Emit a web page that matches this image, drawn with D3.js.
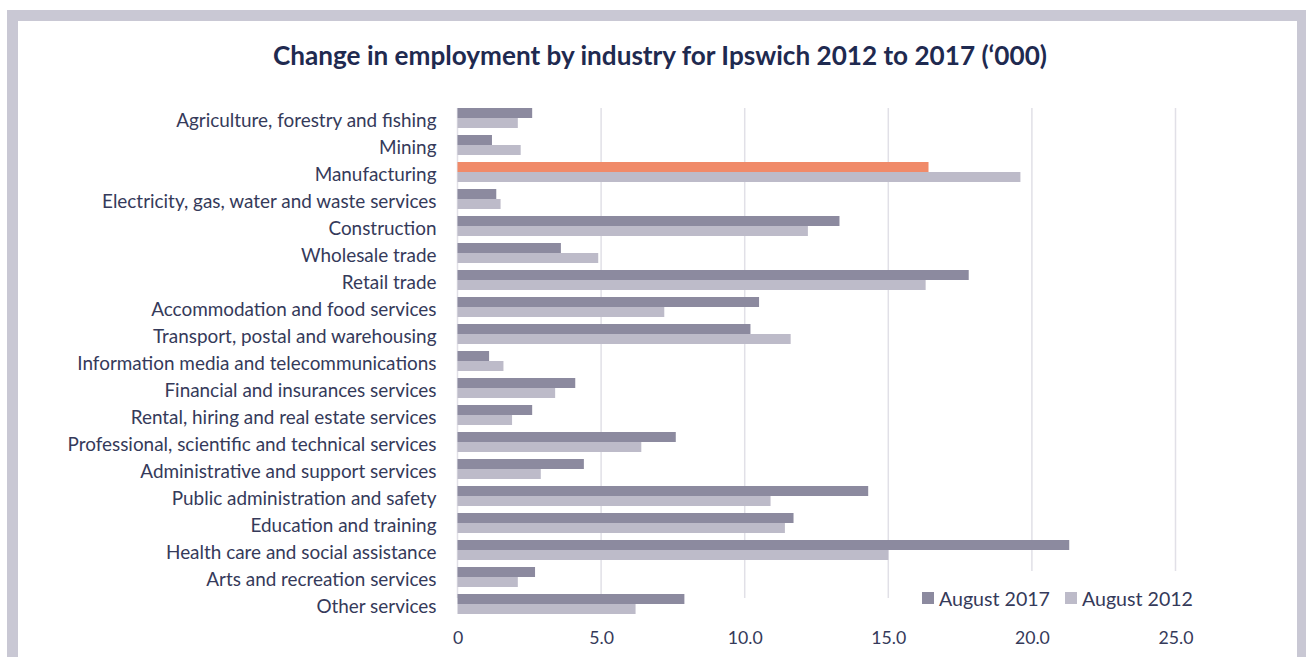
<!DOCTYPE html>
<html>
<head>
<meta charset="utf-8">
<script src="https://cdn.jsdelivr.net/npm/d3@7"></script>
<style>
  html, body { margin: 0; padding: 0; background: #ffffff; overflow: hidden; }
  svg { display: block; }
  text { font-family: Lato, "Open Sans", sans-serif; }
</style>
</head>
<body>
<svg id="chart" width="1306" height="657"></svg>
<script>
// Employment by industry, thousands of people
const categories = [
  "Agriculture, forestry and fishing",
  "Mining",
  "Manufacturing",
  "Electricity, gas, water and waste services",
  "Construction",
  "Wholesale trade",
  "Retail trade",
  "Accommodation and food services",
  "Transport, postal and warehousing",
  "Information media and telecommunications",
  "Financial and insurances services",
  "Rental, hiring and real estate services",
  "Professional, scientific and technical services",
  "Administrative and support services",
  "Public administration and safety",
  "Education and training",
  "Health care and social assistance",
  "Arts and recreation services",
  "Other services"
];
const aug2017 = [2.6, 1.2, 16.4, 1.35, 13.3, 3.6, 17.8, 10.5, 10.2, 1.1, 4.1, 2.6, 7.6, 4.4, 14.3, 11.7, 21.3, 2.7, 7.9];
const aug2012 = [2.1, 2.2, 19.6, 1.5, 12.2, 4.9, 16.3, 7.2, 11.6, 1.6, 3.4, 1.9, 6.4, 2.9, 10.9, 11.4, 15.0, 2.1, 6.2];
const seriesNames = ["August 2017", "August 2012"];
const xTicks = [0, 5, 10, 15, 20, 25];
const highlighted = "Manufacturing";

const COL_2017 = "#8c8a9f";
const COL_2012 = "#bdbbc9";
const COL_HIGHLIGHT = "#f08a69";
const COL_TEXT = "#353a5a";
const COL_TITLE = "#1f2a50";
const COL_GRID = "#e1e0e7";
const COL_FRAME = "#c9c8d4";

const svg = d3.select("#chart");

// Frame around the panel
svg.append("rect").attr("x", 7).attr("y", 10).attr("width", 1320).attr("height", 700).attr("fill", COL_FRAME);
svg.append("rect").attr("x", 18).attr("y", 21).attr("width", 1279).attr("height", 700).attr("fill", "#ffffff");

// Scales
const x = d3.scaleLinear().domain([0, 25]).range([457.5, 1175.5]);
const y = d3.scaleBand().domain(categories).range([104.5, 617.5])
  .paddingInner(7 / 27).paddingOuter(3.5 / 27);
const ySub = d3.scaleBand().domain(seriesNames).range([0, y.bandwidth()]);

// Fit a text element's font size so it spans a given width
function fitWidth(sel, target) {
  const node = sel.node();
  const fs = parseFloat(sel.attr("font-size"));
  const w = node.getComputedTextLength();
  sel.attr("font-size", (fs * target / w).toFixed(2));
  return fs * target / w;
}

// Title
const title = svg.append("text")
  .attr("x", 660).attr("y", 65)
  .attr("text-anchor", "middle")
  .attr("font-size", 22).attr("font-weight", 700)
  .attr("fill", COL_TITLE)
  .text("Change in employment by industry for Ipswich 2012 to 2017 (\u2018000)");
fitWidth(title, 774);

// Gridlines
svg.append("g").selectAll("line").data(xTicks).join("line")
  .attr("x1", d => x(d)).attr("x2", d => x(d))
  .attr("y1", 108).attr("y2", 598)
  .attr("stroke", COL_GRID).attr("stroke-width", 1.5);

// Bars
const rows = categories.map((c, i) => ({ cat: c, values: [
  { key: seriesNames[0], value: aug2017[i] },
  { key: seriesNames[1], value: aug2012[i] }
]}));

const groups = svg.append("g").selectAll("g").data(rows).join("g")
  .attr("transform", d => `translate(0,${y(d.cat)})`);

groups.selectAll("rect").data(d => d.values.map(v => ({ ...v, cat: d.cat }))).join("rect")
  .attr("x", x(0))
  .attr("y", d => ySub(d.key))
  .attr("width", d => x(d.value) - x(0))
  .attr("height", ySub.bandwidth())
  .attr("fill", d => d.key === seriesNames[1] ? COL_2012 : (d.cat === highlighted ? COL_HIGHLIGHT : COL_2017));

// Category axis labels
const yAxis = svg.append("g")
  .attr("transform", `translate(${x(0)},0)`)
  .call(d3.axisLeft(y).tickSize(0).tickPadding(21));
yAxis.select(".domain").remove();
yAxis.selectAll("text")
  .attr("font-family", "Lato, sans-serif")
  .attr("font-size", 17).attr("fill", COL_TEXT)
  .attr("dy", "0.48em");
const probe = yAxis.selectAll("text").filter(d => d === "Professional, scientific and technical services");
const catSize = fitWidth(probe, 369);
yAxis.selectAll("text").attr("font-size", catSize.toFixed(2));

// Value axis labels
const xAxis = svg.append("g")
  .attr("transform", `translate(0,644)`)
  .call(d3.axisBottom(x).tickValues(xTicks).tickSize(0).tickPadding(0)
    .tickFormat(d => d === 0 ? "0" : d3.format(".1f")(d)));
xAxis.select(".domain").remove();
xAxis.selectAll("text")
  .attr("font-family", "Lato, sans-serif")
  .attr("font-size", 18).attr("fill", COL_TEXT)
  .attr("dy", 0);
const tickProbe = xAxis.selectAll("text").filter(d => d === 20);
const tickSize = fitWidth(tickProbe, 35);
xAxis.selectAll("text").attr("font-size", tickSize.toFixed(2));

// Legend
const legend = svg.append("g");
legend.append("rect").attr("x", 912).attr("y", 571).attr("width", 292).attr("height", 46).attr("fill", "#ffffff");
const legendX = [922, 1065];
const legendItems = legend.selectAll("g.item").data(seriesNames).join("g").attr("class", "item")
  .attr("transform", (d, i) => `translate(${legendX[i]},0)`);
legendItems.append("rect")
  .attr("x", 0).attr("y", 592).attr("width", 12).attr("height", 12)
  .attr("fill", (d, i) => i === 0 ? COL_2017 : COL_2012);
const legendTexts = legendItems.append("text")
  .attr("x", 17).attr("y", 605.5)
  .attr("font-size", 19).attr("fill", COL_TEXT)
  .text(d => d);
const legSize = fitWidth(legendTexts.filter(d => d === "August 2012"), 111);
legendTexts.attr("font-size", legSize.toFixed(2));
</script>
</body>
</html>
